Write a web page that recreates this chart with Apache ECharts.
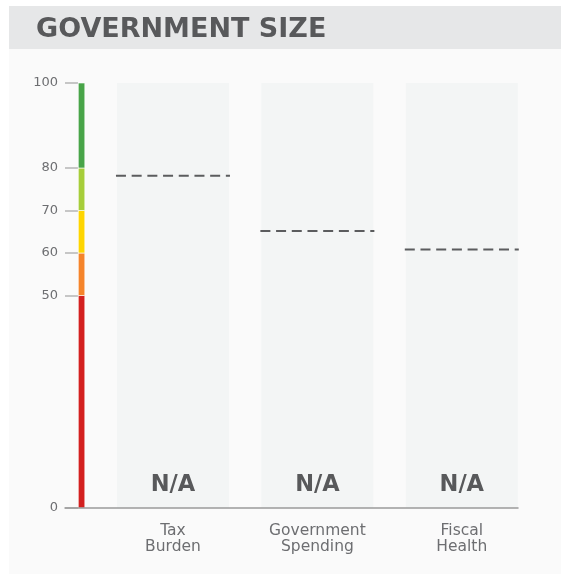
<!DOCTYPE html>
<html>
<head>
<meta charset="utf-8">
<script src="https://cdn.jsdelivr.net/npm/echarts@6/dist/echarts.min.js"></script>
<style>
html,body{margin:0;padding:0;background:#ffffff;}
#chart{width:561px;height:574px;}
</style>
</head>
<body>
<div id="chart"></div>
<script>
var titleText = 'GOVERNMENT SIZE';
var categories = ['Tax\nBurden', 'Government\nSpending', 'Fiscal\nHealth'];
var columnMax = [100, 100, 100];
var scoreLabels = ['N/A', 'N/A', 'N/A'];
var averageValues = [78.2, 65.2, 60.8];
var yTickValues = [0, 50, 60, 70, 80, 100];
var bandStarts = [0, 50, 60, 70, 80];
var bandEnds = [50, 60, 70, 80, 100];
var bandColors = ['#d3201f', '#f5842a', '#fed500', '#a6cd3a', '#48a448'];

var chart = echarts.init(document.getElementById('chart'), null, {renderer: 'canvas'});

var bandData = bandStarts.map(function (s, i) { return [s, bandEnds[i], bandColors[i]]; });
var avgData = averageValues.map(function (v, i) { return [i, v]; });

var wideFont = '"DejaVu Sans", sans-serif';

var option = {
  backgroundColor: '#ffffff',
  animation: false,
  graphic: [
    {type: 'rect', shape: {x: 9, y: 49, width: 552, height: 525}, style: {fill: '#fafafa'}, z: -10},
    {type: 'rect', shape: {x: 9, y: 6, width: 552, height: 43}, style: {fill: '#e6e7e8'}, z: -10}
  ],
  title: {
    text: titleText,
    left: 31,
    top: 11,
    textStyle: {fontFamily: wideFont, fontWeight: 'bold', fontSize: 27, color: '#58595b'}
  },
  grid: [
    {left: 65, right: 43, top: 83, bottom: 66},
    {left: 100.75, right: 27, top: 83, bottom: 66}
  ],
  xAxis: [
    {
      type: 'value', gridIndex: 0, min: 0, max: 1, z: 20,
      axisLine: {show: true, lineStyle: {color: '#9a9a9a', width: 1.5}},
      axisTick: {show: false}, axisLabel: {show: false}, splitLine: {show: false}
    },
    {
      type: 'category', gridIndex: 1, data: categories,
      axisLine: {show: false}, axisTick: {show: false}, splitLine: {show: false},
      axisLabel: {
        margin: 15, color: '#6d6e71', fontSize: 15.5, lineHeight: 16,
        fontFamily: wideFont
      }
    }
  ],
  yAxis: [
    {
      type: 'value', gridIndex: 0, min: 0, max: 100, interval: 10,
      axisLine: {show: false}, splitLine: {show: false},
      axisTick: {show: true, inside: true, length: 13, customValues: yTickValues, lineStyle: {color: '#c6c6c6', width: 2}},
      axisLabel: {margin: 7, color: '#6d6e71', fontSize: 13, fontFamily: wideFont, customValues: yTickValues}
    },
    {
      type: 'value', gridIndex: 1, min: 0, max: 100, show: false
    }
  ],
  series: [
    {
      type: 'custom', xAxisIndex: 0, yAxisIndex: 0, data: bandData, z: 5,
      renderItem: function (params, api) {
        var x0 = api.coord([0, 0])[0];
        var top = api.coord([0, api.value(1)])[1];
        var bot = api.coord([0, api.value(0)])[1];
        return {
          type: 'rect',
          shape: {x: x0 + 13.3, y: top, width: 6.5, height: bot - top},
          style: {fill: bandColors[params.dataIndex], stroke: '#ffffff', lineWidth: 0.6}
        };
      }
    },
    {
      type: 'bar', xAxisIndex: 1, yAxisIndex: 1, data: columnMax, barWidth: 112, z: 1,
      itemStyle: {color: '#f3f5f5'}, silent: true,
      label: {
        show: true, position: 'insideBottom', distance: 11,
        formatter: function (p) { return scoreLabels[p.dataIndex]; },
        fontFamily: wideFont, fontWeight: 'bold', fontSize: 22.5, color: '#58595b'
      }
    },
    {
      type: 'custom', xAxisIndex: 1, yAxisIndex: 1, data: avgData, z: 6,
      renderItem: function (params, api) {
        var c = api.coord([api.value(0), api.value(1)]);
        return {
          type: 'line',
          shape: {x1: c[0] - 57, y1: c[1], x2: c[0] + 57, y2: c[1]},
          style: {stroke: '#5b5c5e', lineWidth: 2, lineDash: [10, 5.7]}
        };
      }
    }
  ]
};
chart.setOption(option);
</script>
</body>
</html>
